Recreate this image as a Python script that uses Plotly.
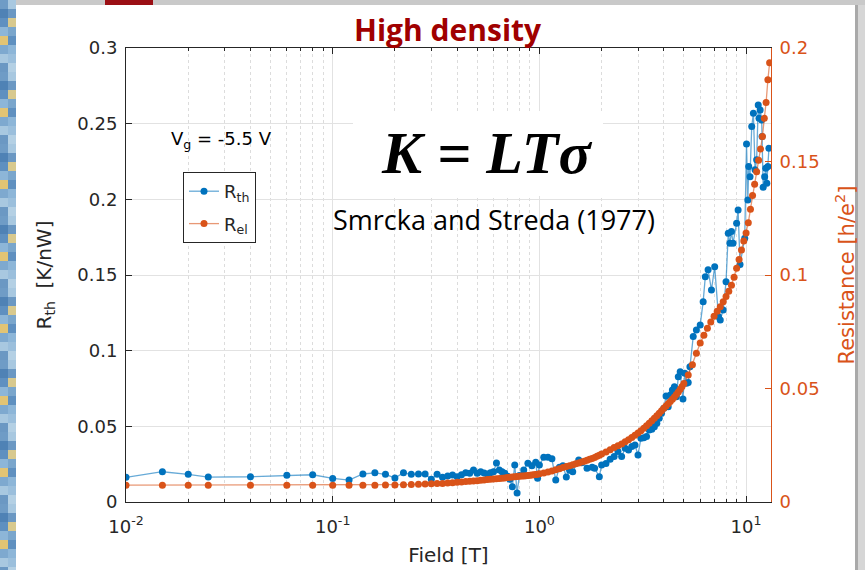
import plotly.graph_objects as go

# ---------------- data ----------------
field_th = [0.01, 0.015, 0.02, 0.025, 0.04, 0.06, 0.08, 0.1, 0.12, 0.14, 0.16, 0.18, 0.2,
            0.22, 0.24, 0.26, 0.28, 0.3, 0.32, 0.34, 0.36, 0.38, 0.4, 0.42, 0.44, 0.46, 0.48,
            0.5, 0.52, 0.54, 0.56, 0.58, 0.6, 0.62, 0.64, 0.66, 0.68, 0.7, 0.72, 0.74, 0.76,
            0.78, 0.8, 0.84, 0.88, 0.92, 0.96, 0.98, 1.0, 1.05, 1.1, 1.15, 1.2, 1.25, 1.3,
            1.35, 1.4, 1.45, 1.55, 1.6, 1.7, 1.8, 1.85, 1.95, 2.0, 2.1, 2.2, 2.3, 2.4, 2.5,
            2.6, 2.7, 2.8, 2.9, 3.0, 3.1, 3.2, 3.3, 3.4, 3.5, 3.6, 3.7, 3.8, 3.9, 4.0, 4.1,
            4.2, 4.3, 4.4, 4.5, 4.6, 4.7, 4.8, 4.95, 5.05, 5.15, 5.25, 5.35, 5.55, 5.75, 6.0,
            6.2, 6.35, 6.55, 6.8, 7.05, 7.35, 7.5, 7.75, 8.0, 8.2, 8.35, 8.5, 8.65, 9.0, 9.15,
            9.35, 9.85, 10.05, 10.2, 10.3, 10.45, 10.65, 10.85, 11.05, 11.25, 11.45, 11.55,
            11.7, 11.9, 11.95, 12.1, 12.3, 12.45, 12.6, 12.75, 12.9]
r_th = [0.0163, 0.0200, 0.0183, 0.0165, 0.0167, 0.0176, 0.0180, 0.0156, 0.0145, 0.0185, 0.0193, 0.0183, 0.0159,
        0.0194, 0.0183, 0.0185, 0.0185, 0.0150, 0.0183, 0.0163, 0.0172, 0.0178, 0.0167, 0.0180, 0.0194, 0.0190, 0.0212,
        0.0190, 0.0200, 0.0192, 0.0185, 0.0194, 0.0200, 0.0258, 0.0212, 0.0200, 0.0190, 0.0170, 0.0150, 0.0101, 0.0245,
        0.0060, 0.0175, 0.0212, 0.0256, 0.0240, 0.0262, 0.0157, 0.0245, 0.0295, 0.0295, 0.0285, 0.0145, 0.0230, 0.0240,
        0.0165, 0.0210, 0.0200, 0.0278, 0.0260, 0.0223, 0.0230, 0.0223, 0.0167, 0.0245, 0.0255, 0.0283, 0.0300, 0.0333, 0.0300,
        0.0355, 0.0344, 0.0366, 0.0377, 0.0311, 0.0421, 0.0425, 0.0432, 0.0476, 0.0480, 0.0498, 0.0520, 0.0553, 0.0586, 0.0619, 0.0700,
        0.0630, 0.0707, 0.0740, 0.0762, 0.0696, 0.0828, 0.0861, 0.0680, 0.0851, 0.0785, 0.0790, 0.0894, 0.1093, 0.1137, 0.1170,
        0.1324, 0.1489, 0.1534, 0.1401, 0.1555, 0.1225, 0.1203, 0.1269, 0.1456, 0.1776, 0.1710, 0.1787, 0.1710, 0.1842, 0.1930,
        0.1570, 0.1743, 0.2366, 0.1996, 0.2217, 0.2150, 0.2481, 0.2569, 0.2195, 0.2261, 0.2624, 0.2536,
        0.2591, 0.2525, 0.2415, 0.2080, 0.2150, 0.2206, 0.2107, 0.2217, 0.2338]

field_el = [0.01, 0.015, 0.02, 0.025, 0.04, 0.06, 0.08, 0.1, 0.12, 0.14, 0.16, 0.18, 0.2,
            0.22, 0.24, 0.26, 0.28, 0.3, 0.32, 0.34, 0.36, 0.38, 0.4,
            0.42, 0.44, 0.46, 0.48, 0.5, 0.52, 0.54, 0.56, 0.58, 0.6,
            0.62, 0.64, 0.66, 0.68, 0.7, 0.72, 0.74, 0.76, 0.78, 0.8,
            0.82, 0.84, 0.86, 0.88, 0.9, 0.92, 0.94, 0.96, 0.98, 1.0,
            1.05, 1.1, 1.15, 1.2, 1.25, 1.3, 1.35, 1.4, 1.45, 1.5,
            1.55, 1.6, 1.65, 1.7, 1.75, 1.8, 1.85, 1.9, 1.95, 2.0,
            2.1, 2.2, 2.3, 2.4, 2.5, 2.6, 2.7, 2.8, 2.9, 3.0,
            3.1, 3.2, 3.3, 3.4, 3.5, 3.6, 3.7, 3.8, 3.9, 4.0,
            4.1, 4.2, 4.3, 4.4, 4.5, 4.6, 4.7, 4.8, 4.9,
            5.0, 5.25, 5.5, 5.75, 6.0, 6.25, 6.5, 6.75, 7.0, 7.25,
            7.5, 7.75, 8.0, 8.25, 8.5, 8.75, 9.0, 9.25, 9.5, 9.75,
            10.0, 10.25, 10.5, 10.75, 11.0, 11.25, 11.5, 11.75, 12.0, 12.25,
            12.5, 12.75, 13.0]
r_el = [0.0074, 0.0074, 0.0074, 0.0074, 0.0074, 0.0074, 0.0074, 0.0074, 0.0074, 0.0074, 0.0074, 0.0075, 0.0075,
        0.0076, 0.0077, 0.0078, 0.0079, 0.0080, 0.0081, 0.0082, 0.0084, 0.0085, 0.0087,
        0.0088, 0.0090, 0.0091, 0.0093, 0.0094, 0.0096, 0.0097, 0.0099, 0.0100, 0.0101,
        0.0102, 0.0104, 0.0105, 0.0106, 0.0108, 0.0109, 0.0110, 0.0111, 0.0112, 0.0113,
        0.0114, 0.0115, 0.0116, 0.0117, 0.0118, 0.0119, 0.0120, 0.0121, 0.0122, 0.0124,
        0.0128, 0.0132, 0.0137, 0.0142, 0.0147, 0.0152, 0.0156, 0.0160, 0.0164, 0.0168,
        0.0172, 0.0176, 0.0180, 0.0184, 0.0188, 0.0192, 0.0196, 0.0201, 0.0206, 0.0211,
        0.0220, 0.0230, 0.0240, 0.0248, 0.0256, 0.0265, 0.0274, 0.0284, 0.0294, 0.0304,
        0.0314, 0.0325, 0.0336, 0.0347, 0.0358, 0.0369, 0.0380, 0.0391, 0.0402, 0.0413,
        0.0423, 0.0433, 0.0443, 0.0453, 0.0463, 0.0474, 0.0485, 0.0497, 0.0509,
        0.0522, 0.0560, 0.0605, 0.0655, 0.0700, 0.0735, 0.0765, 0.0793, 0.0818, 0.0840,
        0.0860, 0.0882, 0.0905, 0.0928, 0.0955, 0.0990, 0.1030, 0.1068, 0.1110, 0.1150,
        0.1185, 0.1230, 0.1290, 0.1350, 0.1400, 0.1455, 0.1505, 0.1555, 0.1610, 0.1690,
        0.1760, 0.1860, 0.1935]

x_tickvals = [0.01, 0.1, 1, 10]
x_ticktext = ["10<sup>-2</sup>", "10<sup>-1</sup>", "10<sup>0</sup>", "10<sup>1</sup>"]
x_minor = [m * d for d in (0.01, 0.1, 1, 10) for m in range(2, 10)]

# ---------------- layout helpers ----------------
W, H = 865, 570
L, R, T, B = 126, 94, 48, 68
PW, PH = W - L - R, H - T - B


def px(x):
    return (x - L) / PW


def py(y):
    return (H - B - y) / PH


BLUE = "#0072BD"
ORANGE = "#D95319"
AX = "#262626"
TICKFONT = dict(family="DejaVu Sans", size=18, color=AX)

fig = go.Figure()
fig.add_trace(go.Scatter(
    x=field_th, y=r_th, name="R<sub>th</sub>", mode="lines+markers", legendgroup="a",
    line=dict(color="rgba(0,114,189,0.6)", width=1.3),
    marker=dict(color=BLUE, size=7, line=dict(width=0)),
))
fig.add_trace(go.Scatter(
    x=field_el, y=r_el, name="R<sub>el</sub>", mode="lines+markers", yaxis="y2", legendgroup="b",
    line=dict(color="rgba(217,83,25,0.6)", width=1.3),
    marker=dict(color=ORANGE, size=7, line=dict(width=0)),
))

shapes = []
# slide decoration: pixelated left strip
palette = ["#6f9cc6", "#8db6d8", "#5a8abb", "#a8c8e0", "#7aa6cc", "#4f82b5",
           "#9bbfdc", "#e2c474", "#6b98c3", "#84afd4", "#5f90c0", "#b4d0e4",
           "#7ea9cf", "#d8c98e"]
row = 0
yy = 0
while yy < H:
    for col in range(2):
        c = palette[(row * 5 + col * 3 + (row // 4)) % len(palette)]
        shapes.append(dict(type="rect", xref="paper", yref="paper", layer="below",
                           x0=px(col * 8), x1=px(col * 8 + 8), y0=py(yy + 9), y1=py(yy),
                           fillcolor=c, line=dict(width=0)))
    yy += 9
    row += 1
# top strip, red block, right shadow
shapes += [
    dict(type="rect", xref="paper", yref="paper", layer="below",
         x0=px(16), x1=px(W), y0=py(5), y1=py(0), fillcolor="#c9c9c9", line=dict(width=0)),
    dict(type="rect", xref="paper", yref="paper", layer="below",
         x0=px(105), x1=px(153), y0=py(5), y1=py(0), fillcolor="#9b0f14", line=dict(width=0)),
    dict(type="rect", xref="paper", yref="paper", layer="below",
         x0=px(855), x1=px(W), y0=py(H), y1=py(5), fillcolor="#d6d6d6", line=dict(width=0)),
    dict(type="rect", xref="paper", yref="paper", layer="below",
         x0=px(855), x1=px(858), y0=py(H), y1=py(5), fillcolor="#a9a9a9", line=dict(width=0)),
    # white box behind the formula
    dict(type="rect", xref="paper", yref="paper", layer="above",
         x0=px(353), x1=px(603), y0=py(196), y1=py(111), fillcolor="white", line=dict(width=0)),
]

annotations = [
    dict(text="<b>High density</b>", x=px(448), y=py(29), xref="paper", yref="paper",
         showarrow=False, xanchor="center", yanchor="middle",
         font=dict(family="Open Sans", size=30, color="#a00000")),
    dict(text="V<sub>g</sub> = -5.5 V", x=px(169), y=py(140), xref="paper", yref="paper",
         showarrow=False, xanchor="left", yanchor="middle",
         font=dict(family="DejaVu Sans", size=18, color="black")),
    dict(text="<b><i>K = LTσ</i></b>", x=px(486), y=py(153), xref="paper", yref="paper",
         showarrow=False, xanchor="center", yanchor="middle",
         font=dict(family="Liberation Serif", size=60, color="black")),
    dict(text="Smrcka and Streda (1977)", x=px(494), y=py(219), xref="paper", yref="paper",
         showarrow=False, xanchor="center", yanchor="middle",
         font=dict(family="Open Sans", size=27, color="black")),
]

fig.update_layout(
    width=W, height=H,
    margin=dict(l=L, r=R, t=T, b=B, autoexpand=False),
    paper_bgcolor="white", plot_bgcolor="white",
    showlegend=True,
    legend=dict(x=px(183), y=py(172), xanchor="left", yanchor="top",
                bgcolor="white", bordercolor=AX, borderwidth=1,
                font=dict(family="DejaVu Sans", size=18, color=AX),
                tracegroupgap=6, itemwidth=30),
    xaxis=dict(
        type="log", range=[-2, 1.1206],
        tickmode="array", tickvals=x_tickvals, ticktext=x_ticktext,
        ticks="inside", ticklen=6, tickcolor=AX, tickwidth=1,
        showline=True, linecolor=AX, linewidth=1, mirror="ticks",
        showgrid=True, gridcolor="#e2e2e2", gridwidth=1, zeroline=False,
        minor=dict(tickmode="array", tickvals=x_minor, ticks="inside", ticklen=3,
                   tickcolor=AX, showgrid=True, gridcolor="#dcdcdc", griddash="dot"),
        tickfont=TICKFONT, ticklabelstandoff=8,
        title=dict(text="Field [T]", font=dict(family="DejaVu Sans", size=20, color=AX), standoff=12),
    ),
    yaxis=dict(
        range=[0, 0.3], dtick=0.05, tick0=0,
        ticks="inside", ticklen=6, tickcolor=AX,
        showline=True, linecolor=AX, linewidth=1, mirror=False,
        showgrid=True, gridcolor="#e2e2e2", zeroline=False,
        tickfont=TICKFONT, ticklabelstandoff=4,
        title=dict(text="R<sub>th</sub>  [K/nW]", font=dict(family="DejaVu Sans", size=20, color=AX), standoff=20),
    ),
    yaxis2=dict(
        overlaying="y", side="right", anchor="x",
        range=[0, 0.2], dtick=0.05, tick0=0,
        ticks="inside", ticklen=6, tickcolor=ORANGE,
        showline=True, linecolor=ORANGE, linewidth=1,
        showgrid=False, zeroline=False,
        tickfont=dict(family="DejaVu Sans", size=18, color=ORANGE), ticklabelstandoff=4,
        title=dict(text="Resistance [h/e<sup>2</sup>]", font=dict(family="DejaVu Sans", size=21, color=ORANGE), standoff=20),
    ),
    shapes=shapes,
    annotations=annotations,
)

fig.write_html("out.html")
